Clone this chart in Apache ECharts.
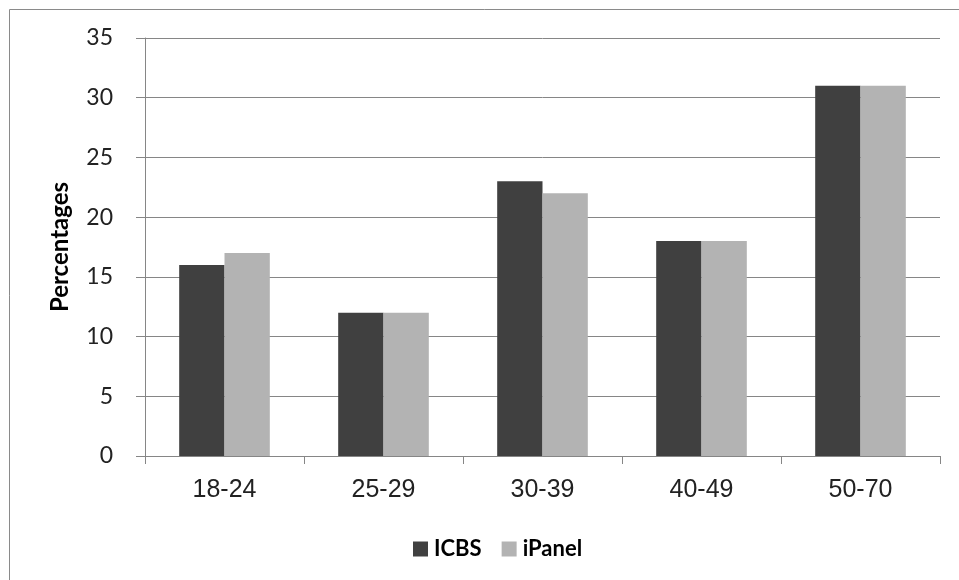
<!DOCTYPE html>
<html><head><meta charset="utf-8">
<script src="https://cdn.jsdelivr.net/npm/echarts@6/dist/echarts.min.js"></script>
<style>html,body{margin:0;padding:0;background:#fff}#c{width:959px;height:580px}</style>
</head><body><div id="c"></div>
<script>
const categories = ['18-24','25-29','30-39','40-49','50-70'];
const icbs = [16, 12, 23, 18, 31];
const ipanel = [17, 12, 22, 18, 31];
const yTicks = [0, 5, 10, 15, 20, 25, 30, 35];

const chart = echarts.init(document.getElementById('c'));
chart.setOption({
  animation: false,
  backgroundColor: '#fff',
  graphic: [{
    type: 'rect', shape: {x: 9.5, y: 9.5, width: 960, height: 580},
    style: {fill: 'none', stroke: '#8a8a8a', lineWidth: 1}, silent: true
  }],
  grid: {left: 145, right: 19, top: 38, bottom: 124, containLabel: false},
  legend: {
    data: ['ICBS', 'iPanel'], left: 408, top: 533,
    itemWidth: 15, itemHeight: 15, itemGap: 20, icon: 'rect',
    textStyle: {fontFamily: 'Lato', fontWeight: 'bold', fontSize: 22, color: '#000', padding: [0,0,0,1]}
  },
  xAxis: {
    type: 'category', data: categories,
    axisLine: {lineStyle: {color: '#868686', width: 1}},
    axisTick: {show: true, length: 8, lineStyle: {color: '#868686'}},
    axisLabel: {fontFamily: 'Liberation Sans', fontSize: 25, color: '#222', margin: 22}
  },
  yAxis: {
    type: 'value', min: 0, max: 35, interval: 5,
    name: 'Percentages', nameLocation: 'middle', nameGap: 73,
    nameTextStyle: {fontFamily: 'Lato', fontWeight: 'bold', fontSize: 24, color: '#000'},
    axisLine: {show: true, lineStyle: {color: '#868686'}},
    axisTick: {show: true, length: 9, lineStyle: {color: '#868686'}},
    axisLabel: {fontFamily: 'Lato', fontSize: 23, color: '#222', margin: 32,
      formatter: v => yTicks.includes(v) ? String(v) : ''},
    splitLine: {lineStyle: {color: '#868686', width: 1}}
  },
  series: [
    {name: 'ICBS', type: 'bar', data: icbs, itemStyle: {color: '#404040'}, barGap: '0%', barCategoryGap: '43%'},
    {name: 'iPanel', type: 'bar', data: ipanel, itemStyle: {color: '#b3b3b3'}, barGap: '0%', barCategoryGap: '43%'}
  ]
});
</script></body></html>
